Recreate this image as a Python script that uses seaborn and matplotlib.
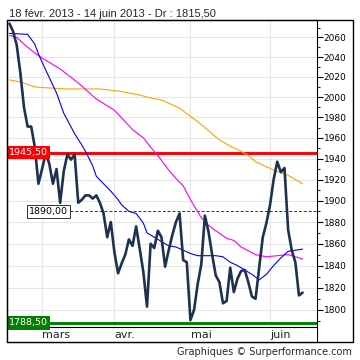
import matplotlib
matplotlib.use("Agg")
import numpy as np
import pandas as pd
import matplotlib.pyplot as plt
import seaborn as sns
from matplotlib.patches import Rectangle
from matplotlib.ticker import FixedLocator, NullFormatter, FuncFormatter
from matplotlib.transforms import blended_transform_factory

## 1. Donnees
# seances du 18/02/2013 au 14/06/2013 (jours feries Euronext retires)
jours = pd.bdate_range("2013-02-18", "2013-06-14")
jours = jours.drop(pd.to_datetime(["2013-03-29", "2013-04-01", "2013-05-01"]))

cloture = [2074, 2066, 2052, 2024, 1990, 1971, 1971, 1951, 1916, 1930,
           1945, 1935, 1916, 1930, 1898, 1928, 1944, 1939, 1944, 1898,
           1901, 1905, 1905, 1902, 1905, 1898, 1888, 1866, 1880, 1852,
           1833, 1842, 1850, 1864, 1858, 1876, 1855, 1834, 1803, 1860,
           1856, 1872, 1866, 1839, 1854, 1868, 1880, 1888, 1845, 1843,
           1791, 1800, 1823, 1841, 1886, 1871, 1850, 1831, 1825, 1806,
           1808, 1838, 1816, 1828, 1835, 1836, 1825, 1812, 1810, 1838,
           1866, 1879, 1896, 1920, 1937, 1927, 1931, 1873, 1854, 1843,
           1813, 1815.5]

# moyennes mobiles (seance -> valeur)
mm_bleue_j = [0, 5, 7, 8, 10, 13, 15, 18, 20, 21, 23, 24, 26, 28, 30, 31, 33, 35, 37, 38,
              40, 42, 44, 46, 48, 50, 52, 57, 59, 61, 63, 65, 67, 69, 71, 73, 75, 77, 79, 81]
mm_bleue = [2064, 2063, 2053, 2043, 2027, 2004, 1984, 1964, 1953, 1947, 1933, 1923, 1916, 1909,
            1901, 1896, 1890, 1888, 1879, 1870, 1866, 1862, 1858, 1857, 1854, 1851, 1849, 1849,
            1848, 1843, 1840, 1836, 1832, 1827, 1832, 1840, 1847, 1853, 1854, 1855]

mm_rose_j = [0, 2, 4, 7, 9, 14, 19, 24, 29, 34, 37, 39, 41, 44, 46, 48, 50, 53, 55, 57,
             60, 62, 64, 68, 71, 74, 77, 81]
mm_rose = [2062, 2060, 2053, 2044, 2039, 2028, 2014, 1998, 1987, 1968, 1960, 1951, 1943, 1929,
           1921, 1914, 1901, 1884, 1877, 1872, 1865, 1863, 1857, 1850, 1848, 1849, 1850, 1846]

mm_orange_j = [0, 3, 7, 11, 16, 21, 25, 30, 36, 39, 42, 44, 47, 50, 53, 55, 58, 61, 64, 66,
               68, 73, 77, 81]
mm_orange = [2017, 2015, 2010, 2009, 2008, 2008, 2008, 2006, 2002, 1999, 1997, 1994, 1989, 1981,
             1973, 1967, 1958, 1952, 1947, 1943, 1937, 1929, 1924, 1916]

resistance = 1945.50
support = 1788.50
pivot = 1890.00
mois = ["mars", "avr.", "mai", "juin"]

titre = "18 févr. 2013 - 14 juin 2013 - Dr : 1815,50"
source = "Graphiques © Surperformance.com"

## 2. Figure
sns.set_style("white")
plt.rcParams["font.family"] = ["DejaVu Sans"]

fig = plt.figure(figsize=(3.6, 3.6), dpi=100)
ax = fig.add_axes([7/360, 18/360, 309.7/360, 322/360])

x = np.arange(len(jours))
debut_mois = [int(np.argmax(jours.month == m)) for m in [3, 4, 5, 6]]

sns.lineplot(x=mm_orange_j, y=mm_orange, ax=ax, color="#ffa500", linewidth=0.8, zorder=3)
sns.lineplot(x=mm_rose_j, y=mm_rose, ax=ax, color="#ff00ff", linewidth=0.8, zorder=3)
sns.lineplot(x=mm_bleue_j, y=mm_bleue, ax=ax, color="#0000ff", linewidth=0.8, zorder=3)
ax.axhline(resistance, color="#ff0000", lw=2.1, zorder=2)
ax.axhline(support, color="#008000", lw=2.1, zorder=7)
ax.axhline(pivot, xmin=0.203, color="#333333", lw=0.7, ls=(0, (3, 2)), zorder=2)
sns.lineplot(x=x, y=cloture, ax=ax, color="#1e3250", linewidth=1.9, zorder=4)

ax.set_yscale("log")
ax.set_ylim(1771.7, 2077.7)
ax.set_xlim(-0.69, 84.9)

ax.yaxis.tick_right()
ax.yaxis.set_major_locator(FixedLocator(list(range(1800, 2061, 20))))
ax.yaxis.set_minor_locator(FixedLocator([v for v in range(1780, 2071, 10) if v % 20 != 0]))
ax.yaxis.set_major_formatter(FuncFormatter(lambda v, p: "%d" % v))
ax.yaxis.set_minor_formatter(NullFormatter())
ax.tick_params(axis="y", which="major", direction="out", length=4, width=0.8,
               labelsize=6.5, pad=1, colors="black")
ax.tick_params(axis="y", which="minor", direction="out", length=2.5, width=0.8)

ax.set_xticks(debut_mois)
ax.set_xticklabels([])
ax.tick_params(axis="x", length=0)
ax.grid(True, which="major", color="#e6e6e6", lw=0.8)
ax.set_axisbelow(True)
ax.set_xlabel("")
ax.set_ylabel("")
for s in ax.spines.values():
    s.set_color("black")
    s.set_linewidth(0.8)

# bandeau des mois
bande = 15/322
ax.add_patch(Rectangle((0, 0), 1, bande, transform=ax.transAxes,
                       facecolor="white", edgecolor="none", zorder=5))
ax.plot([0, 1], [bande, bande], transform=ax.transAxes, color="black", lw=0.8, zorder=6)
tr = blended_transform_factory(ax.transData, ax.transAxes)
for pos, nom in zip(debut_mois, mois):
    ax.text(pos + 0.1, bande / 2, nom, transform=tr, ha="left", va="center",
            fontsize=8, color="#222222", zorder=7)

# etiquettes des niveaux
tr2 = blended_transform_factory(ax.transAxes, ax.transData)
ax.text(0.0075, resistance, "1945,50", transform=tr2, ha="left", va="center", fontsize=6.8,
        color="white", zorder=8, bbox=dict(boxstyle="square,pad=0.22", fc="#ff0000", ec="none"))
ax.text(0.0075, support, "1788,50", transform=tr2, ha="left", va="center", fontsize=6.8,
        color="white", zorder=8, bbox=dict(boxstyle="square,pad=0.22", fc="#008000", ec="none"))
ax.text(0.07, pivot, "1890,00", transform=tr2, ha="left", va="center", fontsize=6.8,
        color="black", zorder=8,
        bbox=dict(boxstyle="square,pad=0.22", fc="white", ec="#333333", lw=0.7))

# cadre exterieur
fig.add_artist(Rectangle((7/360, 18/360), 346/360, 322/360, transform=fig.transFigure,
                         fill=False, edgecolor="black", lw=1))

fig.text(9/360, 1 - 17/360, titre, fontsize=8, family=["Liberation Sans", "DejaVu Sans"],
         va="baseline", ha="left")
fig.text(352/360, 1 - 355/360, source, fontsize=7, va="baseline", ha="right")

fig.savefig("out.png", dpi=100)
